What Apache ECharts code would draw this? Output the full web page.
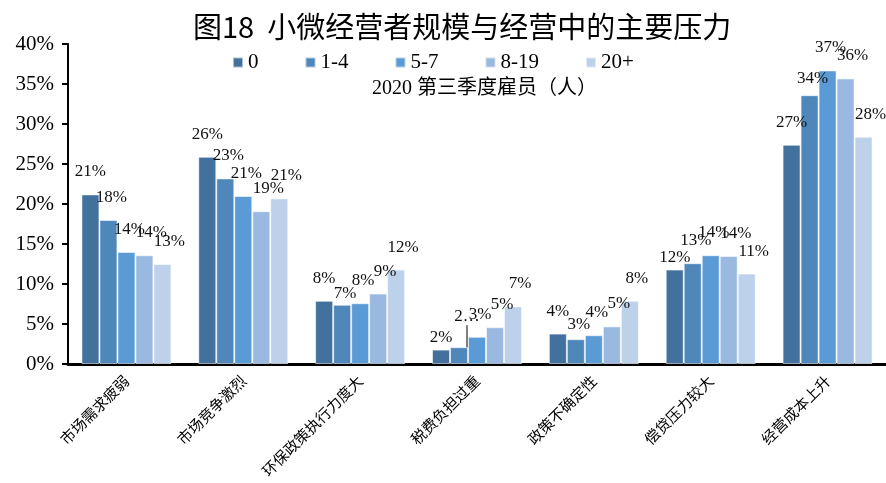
<!DOCTYPE html>
<html>
<head>
<meta charset="utf-8">
<script src="https://cdn.jsdelivr.net/npm/echarts@6/dist/echarts.min.js"></script>
<style>
html,body{margin:0;padding:0;background:#fff;}
#chart{width:886px;height:483px;}
</style>
</head>
<body>
<div id="chart"></div>
<script>
const categories = ['市场需求疲弱','市场竞争激烈','环保政策执行力度大','税费负担过重','政策不确定性','偿贷压力较大','经营成本上升'];
const seriesNames = ['0','1-4','5-7','8-19','20+'];
const s0   = [21.2, 25.9, 7.9, 1.8, 3.8, 11.8, 27.4];
const s1_4 = [18.0, 23.2, 7.4, 2.1, 3.1, 12.6, 33.6];
const s5_7 = [14.0, 21.0, 7.6, 3.4, 3.6, 13.6, 36.7];
const s8_19= [13.6, 19.1, 8.8, 4.6, 4.7, 13.5, 35.7];
const s20  = [12.5, 20.7, 11.8, 7.2, 7.9, 11.3, 28.4];
const yTicks = [0,5,10,15,20,25,30,35,40];

const values = [s0, s1_4, s5_7, s8_19, s20];
const colors = ['#41719C','#4F87BA','#5B9BD5','#9AB9E0','#BDD1EA'];
const labelDx = [0, 3, 3, 7, 7];
// a few labels sit lower in the original
const lowLabels = {'0-3':10, '1-2':11, '0-5':10, '1-6':6, '1-4':8};

const chart = echarts.init(document.getElementById('chart'));
const serif = '"Liberation Serif","Times New Roman","Noto Sans CJK SC",serif';

const series = values.map((arr, si) => ({
  name: seriesNames[si],
  type: 'bar',
  barGap: '0%',
  barCategoryGap: '23%',
  itemStyle: {color: colors[si], borderColor: 'rgba(255,255,255,0.55)', borderWidth: 1},
  label: {
    show: true, position: 'top', distance: 14,
    fontFamily: serif, fontSize: 17, color: '#111',
    formatter: p => Math.round(p.value) + '%'
  },
  labelLayout: function (params) {
    const key = si + '-' + params.dataIndex;
    let dx = labelDx[si], dy = 0;
    if (lowLabels[key]) dy = lowLabels[key];
    if (si === 1 && params.dataIndex === 3) { dx = 8; dy = -8; }
    return {dx: dx, dy: dy};
  },
  data: arr.map((v, ci) => {
    if (si === 1 && ci === 3) {
      return {value: v, label: {formatter: '2…'}, labelLine: {show: true, lineStyle: {color: '#000', width: 1}}};
    }
    return {value: v, labelLine: {show: false}};
  })
}));

chart.setOption({
  animation: false,
  backgroundColor: '#fff',
  title: [
    {text: '图18  小微经营者规模与经营中的主要压力', left: 188, top: 7,
     textStyle: {fontFamily: '"Noto Sans CJK SC","Liberation Serif",serif', fontSize: 29, fontWeight: 'normal', color: '#000'}},
    {text: '2020 第三季度雇员（人）', left: 367, top: 74,
     textStyle: {fontFamily: serif, fontSize: 20, fontWeight: 'normal', color: '#000'}}
  ],
  legend: {
    data: seriesNames, left: 227, top: 47, icon: 'rect', itemWidth: 10, itemHeight: 10, itemGap: 46,
    textStyle: {fontFamily: serif, fontSize: 21, color: '#000'}
  },
  grid: {left: 68, right: 0, top: 44, bottom: 119, containLabel: false},
  xAxis: {
    type: 'category', data: categories,
    axisLine: {lineStyle: {color: '#000', width: 3}},
    axisTick: {show: false},
    axisLabel: {rotate: 45, margin: 14, interval: 0, fontFamily: '"Noto Sans CJK SC",serif', fontSize: 15, color: '#000'}
  },
  yAxis: {
    type: 'value', min: yTicks[0], max: yTicks[yTicks.length-1], interval: 5,
    splitLine: {show: false},
    axisLine: {show: true, lineStyle: {color: '#000', width: 2}},
    axisTick: {show: true, length: 6, lineStyle: {color: '#000', width: 2}},
    axisLabel: {formatter: '{value}%', fontFamily: serif, fontSize: 21, color: '#000', margin: 14}
  },
  series: series
});
</script>
</body>
</html>
